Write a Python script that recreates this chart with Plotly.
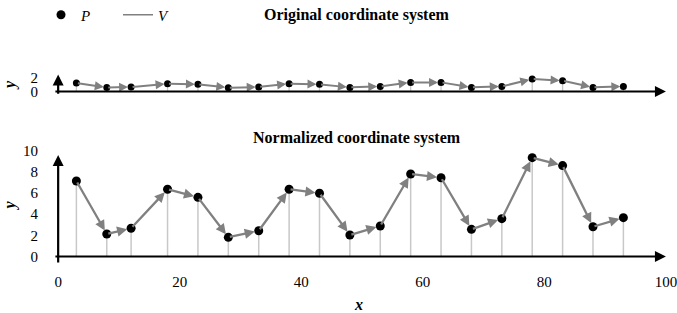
import plotly.graph_objects as go

# ---- data ----
x_vals = [3, 8, 12, 18, 23, 28, 33, 38, 43, 48, 53, 58, 63, 68, 73, 78, 83, 88, 93]
y_original = [1.25, 0.60, 0.66, 1.15, 1.06, 0.56, 0.66, 1.15, 1.06, 0.60,
              0.75, 1.34, 1.34, 0.60, 0.75, 1.84, 1.59, 0.60, 0.75]
y_normalized = [7.12, 2.12, 2.66, 6.34, 5.58, 1.81, 2.43, 6.34, 5.96, 2.03,
                2.88, 7.78, 7.43, 2.56, 3.57, 9.32, 8.57, 2.81, 3.66]
x_ticks = [0, 20, 40, 60, 80, 100]
y_ticks_original = [0, 2]
y_ticks_normalized = [0, 2, 4, 6, 8, 10]
panel_titles = ["Original coordinate system", "Normalized coordinate system"]
legend_names = ["P", "V"]

FONT = "Liberation Serif"
GRAY = "#808080"
DROP = "#c8c8c8"

W, H = 677, 313
ML, MR = 46, 5
PW = W - ML - MR


def px_x(p):
    return (p - ML) / PW


def px_y(p):
    return (H - p) / H


fig = go.Figure()


def drops(xs, ys):
    dx, dy = [], []
    for a, b in zip(xs, ys):
        dx += [a, a, None]
        dy += [0, b, None]
    return dx, dy


# drop lines
dx, dy = drops(x_vals, y_original)
fig.add_trace(go.Scatter(x=dx, y=dy, xaxis="x2", yaxis="y2", mode="lines",
                         line=dict(color=DROP, width=1.3), showlegend=False,
                         hoverinfo="skip"))
dx, dy = drops(x_vals, y_normalized)
fig.add_trace(go.Scatter(x=dx, y=dy, xaxis="x", yaxis="y", mode="lines",
                         line=dict(color=DROP, width=1.5), showlegend=False,
                         hoverinfo="skip"))

# points
fig.add_trace(go.Scatter(x=x_vals, y=y_original, xaxis="x2", yaxis="y2",
                         mode="markers", marker=dict(color="black", size=7),
                         showlegend=False))
fig.add_trace(go.Scatter(x=x_vals, y=y_normalized, xaxis="x", yaxis="y",
                         mode="markers", marker=dict(color="black", size=9),
                         name="<i>%s</i>" % legend_names[0], showlegend=True))
# legend entry for vectors
fig.add_trace(go.Scatter(x=[None], y=[None], xaxis="x", yaxis="y", mode="lines",
                         line=dict(color=GRAY, width=1.5),
                         name="<i>%s</i>" % legend_names[1], showlegend=True))

annotations = []

# vector arrows
def add_vectors(ys, xr, yr, width, size, standoff):
    for i in range(len(x_vals) - 1):
        annotations.append(dict(
            x=x_vals[i + 1], y=ys[i + 1], ax=x_vals[i], ay=ys[i],
            xref=xr, yref=yr, axref=xr, ayref=yr, text="",
            showarrow=True, arrowhead=2, arrowsize=size, arrowwidth=width,
            arrowcolor=GRAY, standoff=standoff, startstandoff=0))


add_vectors(y_original, "x2", "y2", 2.0, 0.9, 3)
add_vectors(y_normalized, "x", "y", 2.3, 0.88, 4)

# axis arrows
def axis_arrow(x, y, ax, ay, xr, yr):
    annotations.append(dict(
        x=x, y=y, ax=ax, ay=ay, xref=xr, yref=yr, axref=xr, ayref=yr, text="",
        showarrow=True, arrowhead=2, arrowsize=1.0, arrowwidth=2.2,
        arrowcolor="black", standoff=0, startstandoff=0))


axis_arrow(100, 0, -0.7, 0, "x", "y")
axis_arrow(0, 9.57, 0, -0.7, "x", "y")
axis_arrow(100, 0, -0.7, 0, "x2", "y2")
axis_arrow(0, 2.5, 0, -0.55, "x2", "y2")

# titles
annotations.append(dict(text="<b>%s</b>" % panel_titles[0], x=px_x(357), y=px_y(15),
                        xref="paper", yref="paper", showarrow=False,
                        xanchor="center", yanchor="middle",
                        font=dict(family=FONT, size=16, color="black")))
annotations.append(dict(text="<b>%s</b>" % panel_titles[1], x=px_x(357), y=px_y(138),
                        xref="paper", yref="paper", showarrow=False,
                        xanchor="center", yanchor="middle",
                        font=dict(family=FONT, size=16, color="black")))
# axis titles
for ypx in (85, 205.6):
    annotations.append(dict(text="<b><i>y</i></b>", x=px_x(10), y=px_y(ypx),
                            xref="paper", yref="paper", showarrow=False,
                            textangle=-90, xanchor="center", yanchor="middle",
                            font=dict(family=FONT, size=16, color="black")))
annotations.append(dict(text="<b><i>x</i></b>", x=px_x(358), y=px_y(304),
                        xref="paper", yref="paper", showarrow=False,
                        xanchor="center", yanchor="middle",
                        font=dict(family=FONT, size=16, color="black")))

axis_common = dict(showgrid=False, zeroline=False, showline=False, automargin=False)

fig.update_layout(
    width=W, height=H,
    margin=dict(l=ML, r=MR, t=0, b=0, autoexpand=False),
    plot_bgcolor="white", paper_bgcolor="white",
    font=dict(family=FONT, size=15, color="black"),
    xaxis=dict(domain=[0, 1], range=[-2, 101], anchor="y",
               tickvals=x_ticks, ticks="outside", ticklen=6,
               tickcolor="rgba(0,0,0,0)", ticklabeloverflow="allow",
               **axis_common),
    yaxis=dict(domain=[px_y(261.8), px_y(149.4)], range=[-0.5, 10.1], anchor="x",
               tickvals=y_ticks_normalized, ticks="outside", ticklen=4,
               tickcolor="rgba(0,0,0,0)", **axis_common),
    xaxis2=dict(domain=[0, 1], range=[-2, 101], anchor="y2",
                showticklabels=False, **axis_common),
    yaxis2=dict(domain=[px_y(95.6), px_y(73.8)], range=[-0.6, 2.6], anchor="x2",
                tickvals=y_ticks_original, ticks="outside", ticklen=4,
                tickcolor="rgba(0,0,0,0)", **axis_common),
    legend=dict(orientation="h", x=px_x(41), y=px_y(-1.5), xanchor="left",
                yanchor="top", bgcolor="rgba(0,0,0,0)",
                font=dict(family=FONT, size=15),
                entrywidth=32, entrywidthmode="pixels"),
    annotations=annotations,
    showlegend=True,
)

fig.write_html("out.html", config={"displayModeBar": False},
               post_script="document.body.style.margin='0px';document.body.style.overflow='hidden';")
